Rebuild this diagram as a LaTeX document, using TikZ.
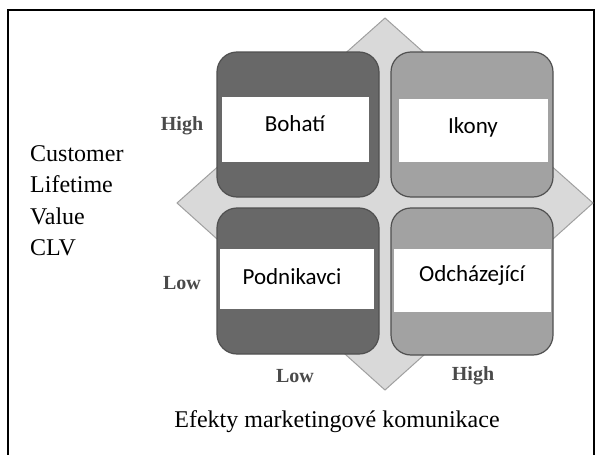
\documentclass[tikz,border=0pt]{standalone}
\usepackage{fontspec}
\setmainfont{Liberation Serif}
\newfontfamily\boxfont{Carlito}
\definecolor{darkq}{HTML}{686868}
\definecolor{lightq}{HTML}{A2A2A2}
\definecolor{qborder}{HTML}{505050}
\definecolor{diafill}{HTML}{D9D9D9}
\definecolor{diaborder}{HTML}{A0A0A0}
\definecolor{axislab}{HTML}{4A4A4A}
\begin{document}
\begin{tikzpicture}[x=1pt,y=-1pt,
  quad/.style={draw=qborder,line width=1.2pt,rounded corners=20pt},
  whitebox/.style={fill=white,draw=none},
  boxlabel/.style={font=\boxfont\fontsize{23}{26}\selectfont,text=black,inner sep=0pt},
  axislabel/.style={font=\bfseries\fontsize{20}{23}\selectfont,text=axislab,inner sep=0pt},
  sidetext/.style={font=\fontsize{24}{31.5}\selectfont,inner sep=0pt,align=left}]
\useasboundingbox (0,0) rectangle (595,455);
% frame
\draw[line width=1.8pt] (8,460) -- (8,10) -- (594,10) -- (594,460);
% diamond
\coordinate (dt) at (385,18);
\coordinate (dr) at (593,203);
\coordinate (db) at (385,390);
\coordinate (dl) at (177,203);
\filldraw[fill=diafill,draw=diaborder,line width=1pt] (dt) -- (dr) -- (db) -- (dl) -- cycle;
% quadrants
\filldraw[quad,fill=darkq] (217,52) rectangle (379,197);
\filldraw[quad,fill=lightq] (391,52) rectangle (553,197);
\filldraw[quad,fill=darkq] (217,208) rectangle (379,354);
\filldraw[quad,fill=lightq] (391,208) rectangle (553,355);
% white label bands
\fill[whitebox] (222,97) rectangle (369,162);
\fill[whitebox] (399,99) rectangle (548,162);
\fill[whitebox] (220,249) rectangle (374,309);
\fill[whitebox] (394,249) rectangle (551,312);
% labels
\node[boxlabel] (bohati) at (295,124) {Bohatí};
\node[boxlabel] (ikony) at (473,127) {Ikony};
\node[boxlabel] (podnik) at (292,277) {Podnikavci};
\node[boxlabel] (odchaz) at (472,275) {Odcházející};
% axis labels
\node[axislabel] (yhigh) at (182,126) {High};
\node[axislabel] (ylow) at (182,283) {Low};
\node[axislabel] (xlow) at (295,376) {Low};
\node[axislabel] (xhigh) at (473,376) {High};
% side text
\node[sidetext,anchor=north west] (clv) at (30,145) {Customer\\Lifetime\\Value\\CLV};
% caption
\node[font=\fontsize{24}{28}\selectfont,inner sep=0pt] (caption) at (337,422) {Efekty marketingové komunikace};
\end{tikzpicture}
\end{document}
